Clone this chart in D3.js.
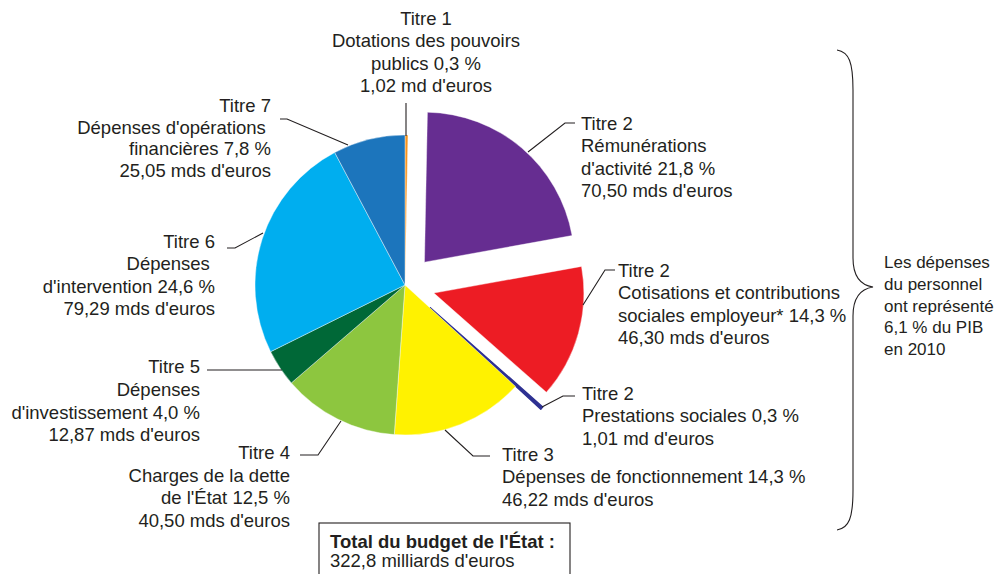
<!DOCTYPE html>
<html>
<head>
<meta charset="utf-8">
<script src="https://cdn.jsdelivr.net/npm/d3@7/dist/d3.min.js"></script>
<style>
  html, body { margin: 0; padding: 0; background: #fff; }
  svg { display: block; }
  text { font-family: "Liberation Sans", Arial, Helvetica, sans-serif; fill: #231f20; }
</style>
</head>
<body>
<svg id="chart" width="998" height="574"></svg>
<script>
// ---- Data ----
const titres = ["Titre 1", "Titre 2", "Titre 2", "Titre 2", "Titre 3", "Titre 4", "Titre 5", "Titre 6", "Titre 7"];
const nameLines = [
  ["Dotations des pouvoirs", "publics"],
  ["Rémunérations", "d'activité"],
  ["Cotisations et contributions", "sociales employeur*"],
  ["Prestations sociales"],
  ["Dépenses de fonctionnement"],
  ["Charges de la dette", "de l'État"],
  ["Dépenses", "d'investissement"],
  ["Dépenses\u00A0", "d'intervention"],
  ["Dépenses d'opérations\u00A0", "financières"]
];
const percents = ["0,3 %", "21,8 %", "14,3 %", "0,3 %", "14,3 %", "12,5 %", "4,0 %", "24,6 %", "7,8 %"];
const amounts = [1.02, 70.50, 46.30, 1.01, 46.22, 40.50, 12.87, 79.29, 25.05];
const colors = ["#f7941d", "#662d91", "#ed1c24", "#2e3192", "#fff200", "#8dc63f", "#006837", "#00aeef", "#1c75bc"];
const exploded = [false, true, true, true, false, false, false, false, false];
const totalLabel = ["Total du budget de l'État :", "322,8 milliards d'euros"];
const noteLines = ["Les dépenses", "du personnel", "ont représenté", "6,1 % du PIB", "en 2010"];

// ---- Layout ----
const cx = 405, cy = 285, R = 150;
const explodeDist = [0, 30, 30, 34, 0, 0, 0, 0, 0];
const labelLayout = [
  { anchor: "middle", x: 426, y: 25, step: 22.4, leader: [[406, 103], [406, 136]] },
  { anchor: "start", x: 581, y: 130, step: 22.3, leader: [[575, 123], [565, 123], [528, 152]] },
  { anchor: "start", x: 618, y: 277, step: 22.3, leader: [[615, 270], [605, 270], [583, 305]] },
  { anchor: "start", x: 582, y: 400, step: 22.3, leader: [[575, 396], [563, 396], [542, 407]] },
  { anchor: "start", x: 502, y: 461, step: 22.3, leader: [[490, 456], [473, 456], [445, 430]] },
  { anchor: "end", x: 290, y: 459, step: 22.6, leader: [[300, 455], [318, 455], [341, 421]] },
  { anchor: "end", x: 200, y: 373, step: 22.8, leader: [[207, 370], [282, 370]] },
  { anchor: "end", x: 215, y: 248, step: 22.4, leader: [[227, 248], [235, 248], [263, 233]] },
  { anchor: "end", x: 271, y: 112, step: 21.7, leader: [[280, 119], [287, 119], [348, 145]] }
];
const fontSize = 18.5;

const svg = d3.select("#chart");

const fmtAmount = v => d3.format(".2f")(v).replace(".", ",") + (v < 2 ? " md d'euros" : " mds d'euros");

// ---- Pie ----
const pie = d3.pie().sort(null).startAngle(0).endAngle(2 * Math.PI).value(d => d);
const arcs = pie(amounts);
const arc = d3.arc().innerRadius(0).outerRadius(R);

const g = svg.append("g").attr("transform", `translate(${cx},${cy})`);
g.selectAll("path.slice")
  .data(arcs)
  .join("path")
  .attr("class", "slice")
  .attr("transform", (d, i) => {
    if (!exploded[i]) return null;
    const a = (d.startAngle + d.endAngle) / 2;
    const k = explodeDist[i];
    return `translate(${Math.sin(a) * k},${-Math.cos(a) * k})`;
  })
  .attr("d", arc)
  .attr("fill", (d, i) => colors[i])
  .attr("stroke", (d, i) => i === 3 ? colors[i] : "#ffffff")
  .attr("stroke-width", (d, i) => i === 3 ? 1.4 : 0.4)
  .attr("stroke-linejoin", "round");

// ---- Leaders ----
const line = d3.line();
svg.selectAll("path.leader")
  .data(labelLayout)
  .join("path")
  .attr("class", "leader")
  .attr("d", d => line(d.leader))
  .attr("fill", "none")
  .attr("stroke", "#231f20")
  .attr("stroke-width", 1.1);

// ---- Labels ----
labelLayout.forEach((L, i) => {
  const nl = nameLines[i].slice();
  nl[nl.length - 1] = nl[nl.length - 1].replace(/\u00A0$/, "") + " " + percents[i] + (nameLines[i][nl.length - 1].endsWith("\u00A0") ? "\u00A0" : "");
  const lines = [titres[i]].concat(nl, [fmtAmount(amounts[i])]);
  const t = svg.append("text")
    .attr("text-anchor", L.anchor)
    .attr("font-size", fontSize);
  lines.forEach((s, j) => {
    t.append("tspan").attr("x", L.x).attr("y", L.y + j * L.step).text(s);
  });
});

// ---- Brace ----
svg.append("path")
  .attr("d", "M837,50 C849,52 853,62 853,90 L853,258 C853,276 860,285 873,287 C860,289 853,298 853,316 L853,490 C853,518 849,528 837,530")
  .attr("fill", "none")
  .attr("stroke", "#231f20")
  .attr("stroke-width", 1.1);

const note = svg.append("text").attr("font-size", 17).attr("text-anchor", "start");
noteLines.forEach((s, j) => {
  note.append("tspan").attr("x", 884).attr("y", 268 + j * 21.8).text(s);
});

// ---- Total box ----
svg.append("rect")
  .attr("x", 319).attr("y", 523).attr("width", 251).attr("height", 70)
  .attr("fill", "#fff").attr("stroke", "#231f20").attr("stroke-width", 1.1);
svg.append("text").attr("x", 330).attr("y", 548).attr("font-size", fontSize)
  .attr("font-weight", "bold").text(totalLabel[0]);
svg.append("text").attr("x", 330).attr("y", 567).attr("font-size", fontSize)
  .text(totalLabel[1]);
</script>
</body>
</html>
